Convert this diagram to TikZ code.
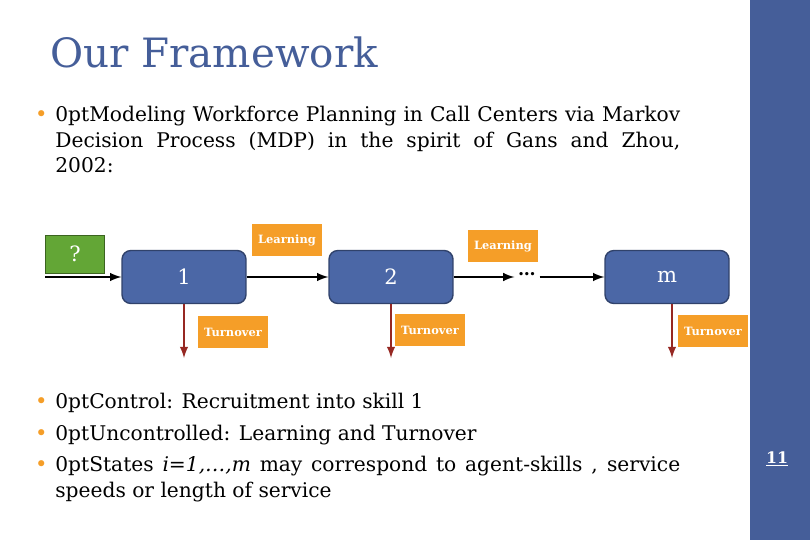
\documentclass[tikz,border=0pt]{standalone}
\usepackage{fontspec}
\setmainfont{DejaVu Serif}
\usetikzlibrary{positioning}
\definecolor{slideblue}{RGB}{69,94,153}
\definecolor{boxblue}{RGB}{75,103,166}
\definecolor{tagorange}{RGB}{245,158,40}
\definecolor{qgreen}{RGB}{99,166,54}
\definecolor{darkred}{RGB}{150,40,35}
\begin{document}
\begin{tikzpicture}[
    x=0.02cm, y=-0.02cm,
    state/.style={rectangle, draw=slideblue!70!black, thick, fill=boxblue, rounded corners=5pt, minimum width=2.48cm, minimum height=1.06cm, text=white, font=\large},
    tag/.style={rectangle, fill=tagorange, minimum width=1.36cm, minimum height=0.64cm, text=white, font=\fontsize{6.5}{8}\selectfont\bfseries},
    flow/.style={-latex, very thick, black},
    leave/.style={-latex, very thick, darkred},
    bullet/.style={anchor=north west, align=justify, text width=12.5cm, font=\fontsize{11.5}{14.5}\selectfont\hyphenpenalty=10000, inner sep=0pt}
  ]
  \useasboundingbox (0,0) rectangle (810,540);
  \fill[slideblue] (750,0) rectangle (810,540);
  \node[anchor=west, text=slideblue, font=\fontsize{23}{25}\selectfont] (title) at (44,52) {Our Framework};

  \node[bullet] (b1) at (55,106) {Modeling Workforce Planning in Call Centers via Markov\linebreak Decision Process (MDP) in the spirit of Gans and Zhou,\linebreak 2002:};

  % chain of states
  \node[rectangle, draw=qgreen!60!black, fill=qgreen, minimum width=1.18cm, minimum height=0.76cm, text=white, font=\large] (query) at (75,254) {?};
  \node[state] (s1) at (184,277) {1};
  \node[state] (s2) at (391,277) {2};
  \node[state] (sm) at (667,277) {m};
  \node[font=\bfseries, inner sep=2pt] (dots) at (527,274) {\dots};
  \coordinate (in) at (45,277);

  \node[tag] (learn1) at (287,240) {Learning};
  \node[tag] (learn2) at (503,246) {Learning};
  \node[tag] (turn1) at (233,332) {Turnover};
  \node[tag] (turn2) at (430,330) {Turnover};
  \node[tag] (turnm) at (713,331) {Turnover};

  \coordinate (out1) at (184,358);
  \coordinate (out2) at (391,358);
  \coordinate (outm) at (672,358);

  \draw[flow] (in) -- (s1);
  \draw[flow] (s1) -- (s2);
  \draw[flow] (s2.east) -- (dots.west |- s2.east);
  \draw[flow] (dots.east |- sm.west) -- (sm.west);
  \draw[leave] (s1.south) -- (out1);
  \draw[leave] (s2.south) -- (out2);
  \draw[leave] (sm.south -| outm) -- (outm);

  \node[bullet] (b2) at (55,393) {Control: Recruitment into skill 1};
  \node[bullet] (b3) at (55,425) {Uncontrolled: Learning and Turnover};
  \node[bullet] (b4) at (55,456) {States \textit{i=1,\dots,m} may correspond to agent-skills , service\linebreak speeds or length of service};
  \foreach \b in {b1,b2,b3,b4}
    \node[text=tagorange, anchor=east, inner sep=0pt, xshift=-4pt, yshift=-6pt, font=\large] at (\b.north west) {\textbullet};

  \node[text=white, font=\small\bfseries] (page) at (777,459) {\underline{11}};
\end{tikzpicture}
\end{document}
